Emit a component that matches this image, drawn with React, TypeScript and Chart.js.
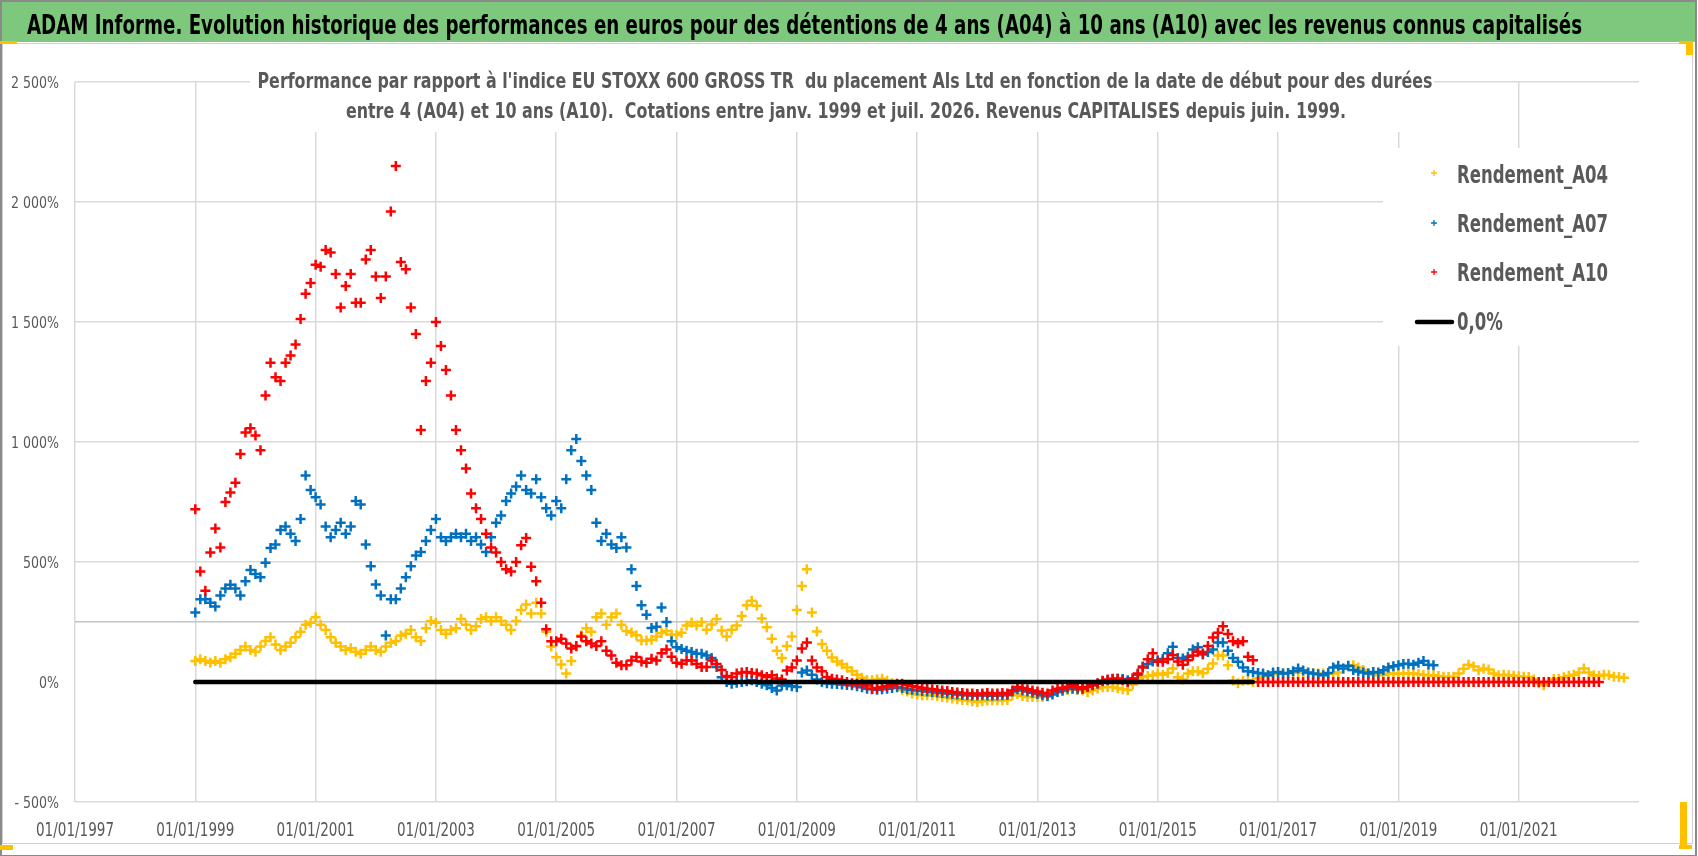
import { useEffect, useRef } from "react"
import { Chart, registerables } from "chart.js"

Chart.register(...registerables)

// Monthly samples, starting January 1999
const FIRST_YEAR = 1999
const STEPS_PER_YEAR = 12

const RENDEMENT_A04 = [
  88, 95, 88, 80, 88, 80, 95, 103, 118, 133, 148, 133,
  126, 148, 171, 186, 156, 133, 148, 164, 186, 209, 239, 247,
  270, 239, 217, 186, 164, 148, 133, 141, 126, 118, 133, 148,
  133, 126, 148, 164, 171, 194, 201, 217, 186, 171, 224, 254,
  247, 217, 201, 217, 224, 262, 239, 217, 232, 262, 270, 254,
  270, 254, 239, 217, 254, 300, 323, 285, 330, 285, 209, 148,
  103, 73, 35, 88, 148, 194, 224, 209, 270, 285, 239, 270,
  285, 239, 212, 206, 195, 173, 173, 176, 190, 204, 212, 198,
  196, 205, 235, 248, 235, 250, 218, 240, 262, 215, 190, 218,
  235, 275, 320, 339, 318, 265, 228, 180, 130, 100, 150, 190,
  300, 400, 470, 290, 210, 158, 130, 102, 85, 74, 60, 45,
  30, 18, 8, 7, 10, 14, 5, -5, -20, -33, -40, -48,
  -52, -55, -55, -55, -58, -62, -65, -69, -72, -75, -76, -80,
  -83, -80, -77, -76, -76, -76, -75, -55, -50, -58, -62, -62,
  -62, -62, -60, -48, -42, -38, -33, -28, -32, -35, -42, -35,
  -28, -22, -21, -21, -26, -30, -33, -10, 10, 21, 25, 28,
  35, 30, 38, 56, 20, 10, 35, 45, 45, 36, 55, 77,
  110, 110, 70, 5, -5, 5, 7, 0, 15, 25, 28, 32,
  35, 35, 38, 40, 42, 40, 38, 36, 35, 35, 34, 35,
  40, 55, 65, 70, 60, 50, 35, 30, 28, 30, 35, 35,
  34, 35, 36, 35, 33, 30, 28, 28, 25, 22, 21, 22,
  35, 55, 72, 65, 49, 56, 52, 35, 28, 30, 28, 26,
  24, 22, 21, 10, -5, -14, 0, 12, 14, 20, 26, 30,
  40, 56, 40, 28, 26, 30, 28, 22, 21, 18,
]

const RENDEMENT_A07 = [
  290, 345, 345, 330, 315, 360, 390, 405, 390, 360, 420, 467,
  450, 436, 497, 558, 573, 633, 648, 618, 588, 679, 860, 800,
  770, 740, 648, 603, 633, 664, 618, 648, 754, 740, 573, 482,
  406, 360, 194, 345, 345, 390, 436, 482, 527, 542, 588, 633,
  679, 603, 588, 603, 618, 603, 618, 588, 603, 573, 542, 603,
  664, 694, 754, 785, 815, 860, 800, 785, 845, 770, 724, 694,
  754, 724, 845, 966, 1012, 921, 860, 800, 664, 588, 618, 573,
  558, 603, 560, 470, 400, 320, 280, 225, 230, 310, 250, 170,
  145, 138, 130, 125, 118, 118, 110, 100, 62, 20, 0, -7,
  -3, 0, 3, 7, 0, -7, -14, -25, -35, -15, -14, -18,
  -21, 40, 48, 30, 10, 0, -5, -7, -8, -10, -12, -14,
  -18, -22, -28, -30, -32, -30, -28, -25, -22, -25, -30, -32,
  -35, -38, -40, -42, -44, -46, -48, -50, -52, -54, -55, -56,
  -56, -55, -56, -57, -56, -55, -54, -40, -30, -35, -40, -45,
  -50, -55, -58, -52, -42, -35, -28, -28, -30, -28, -21, -14,
  -7, 3, 7, 12, 14, 12, 7, 15, 30, 65, 75, 85,
  91, 96, 120, 147, 100, 98, 105, 135, 145, 115, 125, 135,
  165, 165, 130, 100, 84, 60, 45, 42, 38, 35, 28, 40,
  42, 35, 38, 45, 56, 48, 40, 35, 32, 28, 38, 60,
  68, 56, 68, 50, 44, 40, 35, 42, 40, 49, 60, 66,
  70, 75, 76, 72, 80, 88, 72, 70,
]

const RENDEMENT_A10 = [
  720, 460, 380, 540, 640, 560, 750, 790, 830, 950, 1040, 1057,
  1027, 966, 1194, 1330, 1270, 1254, 1330, 1360, 1406, 1512, 1618, 1663,
  1739, 1730, 1800, 1790, 1700, 1560, 1650, 1700, 1580, 1580, 1760, 1800,
  1690, 1600, 1690, 1960, 2150, 1750, 1720, 1560, 1450, 1050, 1254, 1330,
  1500, 1400, 1300, 1194, 1050, 966, 890, 785, 724, 679, 618, 560,
  540, 500, 470, 460, 500, 570, 600, 480, 420, 330, 220, 170,
  170, 180, 160, 140, 150, 190, 170, 160, 150, 170, 130, 110,
  80, 70, 70, 90, 104, 85, 80, 97, 90, 120, 135, 105,
  80, 76, 90, 90, 75, 62, 62, 90, 75, 50, 25, 21,
  35, 40, 42, 38, 35, 28, 21, 28, 15, 10, 48, 60,
  90, 140, 165, 90, 60, 45, 21, 14, 10, 7, 0, -5,
  -7, -7, -15, -28, -25, -21, -18, -14, -7, -7, -12, -18,
  -21, -25, -28, -30, -33, -35, -38, -42, -44, -46, -48, -48,
  -50, -48, -46, -48, -48, -46, -48, -35, -21, -25, -30, -35,
  -40, -45, -48, -35, -28, -24, -20, -14, -22, -28, -21, -14,
  -5, 5, 10, 14, 14, 8, 0, 15, 35, 60, 95, 120,
  84, 84, 95, 112, 85, 72, 91, 110, 126, 119, 150, 185,
  205, 232, 200, 170, 161, 170, 105, 91, 0, 0, 0, 0,
  0, 0, 0, 0, 0, 0, 0, 0, 0, 0, 0, 0,
  0, 0, 0, 0, 0, 0, 0, 0, 0, 0, 0, 0,
  0, 0, 0, 0, 0, 0, 0, 0, 0, 0, 0, 0,
  0, 0, 0, 0, 0, 0, 0, 0, 0, 0, 0, 0,
  0, 0, 0, 0, 0, 0, 0, 0, 0, 0, 0, 0,
  0, 0, 0, 0, 0,
]

// 0,0% reference line
const ZERO_LINE_YEARS = [1999, 2016.58]
const ZERO_LINE_VALUES = [0, 0]

const SERIES_LABELS = ["Rendement_A04", "Rendement_A07", "Rendement_A10", "0,0%"]
const SERIES_COLORS = ["#FFC000", "#0070C0", "#FF0000", "#000000"]

const X_MIN = 1997
const X_MAX = 2023
const X_STEP = 2
const Y_MIN = -500
const Y_MAX = 2500
const Y_STEP = 250
const Y_LABEL_STEP = 500
const Y_GRID_VALUES = [2500, 2000, 1500, 1000, 500, 250, -500]

const TITLE =
  "ADAM Informe. Evolution historique des performances en euros pour des détentions de 4 ans (A04) à 10 ans (A10) avec les revenus connus capitalisés"
const SUBTITLE = [
  "Performance par rapport à l'indice EU STOXX 600 GROSS TR  du placement Als Ltd en fonction de la date de début pour des durées",
  "entre 4 (A04) et 10 ans (A10).  Cotations entre janv. 1999 et juil. 2026. Revenus CAPITALISES depuis juin. 1999.",
]

// no narrow font is installed, so text is squeezed horizontally to look like Calibri
const FONT = '"DejaVu Sans Condensed", "DejaVu Sans", sans-serif'
const TEXT_GRAY = "#595959"

const toPoints = (values: number[]) =>
  values.map((v, i) => ({ x: FIRST_YEAR + i / STEPS_PER_YEAR, y: v }))

const formatPercent = (v: number) => {
  const abs = Math.abs(v)
  const body =
    abs >= 1000 ? `${Math.floor(abs / 1000)} ${String(abs % 1000).padStart(3, "0")}` : String(abs)
  return (v < 0 ? "- " : "") + body + "%"
}

const formatDate = (year: number) => `01/01/${year}`

// squeeze factor so that `sample` is `width` px wide in the current font
const squeeze = (ctx: CanvasRenderingContext2D, sample: string, width: number) =>
  width / ctx.measureText(sample).width

const drawText = (
  ctx: CanvasRenderingContext2D,
  text: string,
  x: number,
  y: number,
  sx: number,
  align: CanvasTextAlign
) => {
  ctx.save()
  ctx.translate(x, y)
  ctx.scale(sx, 1)
  ctx.textAlign = align
  ctx.textBaseline = "alphabetic"
  ctx.fillText(text, 0, 0)
  ctx.restore()
}

// green banner with the main title
const bannerPlugin = {
  id: "banner",
  beforeDraw(chart: Chart) {
    const { ctx } = chart
    ctx.save()
    ctx.fillStyle = "#ffffff"
    ctx.fillRect(0, 0, chart.width, chart.height)
    ctx.fillStyle = "#7DC87D"
    ctx.fillRect(2, 2, 1693, 40)
    ctx.fillStyle = "#000000"
    ctx.font = `bold 27px ${FONT}`
    drawText(ctx, TITLE, 27, 34, squeeze(ctx, TITLE, 1555), "left")
    ctx.restore()
  },
}

// tick labels, drawn by hand to get the narrow look
const tickLabelPlugin = {
  id: "tickLabels",
  afterDraw(chart: Chart) {
    const { ctx } = chart
    const xs = chart.scales.x
    const ys = chart.scales.y
    ctx.save()
    ctx.fillStyle = TEXT_GRAY
    ctx.font = `20px ${FONT}`
    const sx = squeeze(ctx, formatDate(1997), 78)
    xs.ticks.forEach((t) => {
      if (t.value >= X_MAX) return
      drawText(ctx, formatDate(t.value), xs.getPixelForValue(t.value), 836, sx, "center")
    })
    ctx.font = `16.5px ${FONT}`
    const sy = squeeze(ctx, formatPercent(2500), 48)
    ys.ticks.forEach((t) => {
      if (t.value % Y_LABEL_STEP !== 0) return
      drawText(ctx, formatPercent(t.value), 59, ys.getPixelForValue(t.value) + 6, sy, "right")
    })
    ctx.restore()
  },
}

// chart title block drawn over the plot area, as in the Excel chart
const subtitlePlugin = {
  id: "subtitleBox",
  afterDatasetsDraw(chart: Chart) {
    const { ctx } = chart
    ctx.save()
    ctx.fillStyle = "#ffffff"
    ctx.fillRect(250, 66, 1184, 66)
    ctx.fillStyle = TEXT_GRAY
    ctx.font = `bold 22px ${FONT}`
    const sx = squeeze(ctx, SUBTITLE[0], 1175)
    drawText(ctx, SUBTITLE[0], 845, 88, sx, "center")
    drawText(ctx, SUBTITLE[1], 846, 118, sx, "center")
    ctx.restore()
  },
}

// legend box in the upper right of the plot area
const legendPlugin = {
  id: "legendBox",
  afterDatasetsDraw(chart: Chart) {
    const { ctx } = chart
    const marks = [173, 223, 272, 322]
    const baselines = [183, 232, 281, 330]
    ctx.save()
    ctx.fillStyle = "#ffffff"
    ctx.fillRect(1383, 148, 262, 198)
    ctx.font = `bold 24px ${FONT}`
    const sx = squeeze(ctx, SERIES_LABELS[0], 151)
    SERIES_LABELS.forEach((label, i) => {
      const y = marks[i]
      ctx.strokeStyle = SERIES_COLORS[i]
      if (i < 3) {
        ctx.lineWidth = 1.3
        ctx.beginPath()
        ctx.moveTo(1431, y)
        ctx.lineTo(1437, y)
        ctx.moveTo(1434, y - 3)
        ctx.lineTo(1434, y + 3)
        ctx.stroke()
      } else {
        ctx.lineWidth = 4.5
        ctx.lineCap = "round"
        ctx.beginPath()
        ctx.moveTo(1417, y)
        ctx.lineTo(1452, y)
        ctx.stroke()
      }
      ctx.fillStyle = TEXT_GRAY
      drawText(ctx, label, 1457, baselines[i], sx, "left")
    })
    ctx.restore()
  },
}

const markerSeries = (values: number[], idx: number, order: number) => ({
  label: SERIES_LABELS[idx],
  data: toPoints(values),
  showLine: false,
  pointStyle: "cross" as const,
  pointRadius: 5,
  pointBorderWidth: 2.5,
  borderColor: SERIES_COLORS[idx],
  backgroundColor: SERIES_COLORS[idx],
  order,
})

export default function App() {
  const chartRef = useRef<HTMLCanvasElement>(null)
  const chartInstance = useRef<Chart | null>(null)

  useEffect(() => {
    if (!chartRef.current) return
    if (chartInstance.current) chartInstance.current.destroy()

    const ctx = chartRef.current.getContext("2d")
    if (!ctx) return

    chartInstance.current = new Chart(ctx, {
      type: "scatter",
      data: {
        datasets: [
          {
            label: SERIES_LABELS[3],
            data: ZERO_LINE_YEARS.map((x, i) => ({ x, y: ZERO_LINE_VALUES[i] })),
            showLine: true,
            borderColor: SERIES_COLORS[3],
            borderWidth: 4.5,
            borderCapStyle: "round",
            pointRadius: 0,
            order: 0,
          },
          markerSeries(RENDEMENT_A10, 2, 1),
          markerSeries(RENDEMENT_A07, 1, 2),
          markerSeries(RENDEMENT_A04, 0, 3),
        ],
      },
      options: {
        responsive: false,
        animation: false,
        layout: { padding: { top: 82, right: 59, left: 0, bottom: 0 } },
        plugins: {
          legend: { display: false },
          title: { display: false },
          tooltip: { enabled: false },
        },
        scales: {
          x: {
            type: "linear",
            min: X_MIN,
            max: X_MAX,
            afterFit: (scale) => {
              scale.height = 54
            },
            ticks: { stepSize: X_STEP, display: false, autoSkip: false },
            grid: {
              drawTicks: false,
              color: (c) => (c.tick && c.tick.value >= X_MAX ? "rgba(0,0,0,0)" : "#d9d9d9"),
              lineWidth: 1.5,
            },
            border: { display: false },
          },
          y: {
            type: "linear",
            min: Y_MIN,
            max: Y_MAX,
            afterFit: (scale) => {
              scale.width = 75
            },
            ticks: { stepSize: Y_STEP, display: false, autoSkip: false },
            grid: {
              drawTicks: false,
              color: (c) => {
                const v = c.tick ? c.tick.value : NaN
                if (!Y_GRID_VALUES.includes(v)) return "rgba(0,0,0,0)"
                return v === 250 ? "#c4c4c4" : "#d9d9d9"
              },
              lineWidth: 1.5,
            },
            border: { display: false },
          },
        },
      },
      plugins: [bannerPlugin, subtitlePlugin, legendPlugin, tickLabelPlugin],
    })

    return () => {
      if (chartInstance.current) {
        chartInstance.current.destroy()
        chartInstance.current = null
      }
    }
  }, [])

  return (
    <div
      style={{
        position: "fixed",
        left: 0,
        top: 0,
        width: 1698,
        height: 856,
        background: "#ffffff",
        overflow: "hidden",
      }}
    >
      <canvas ref={chartRef} width={1698} height={856} style={{ position: "absolute", left: 0, top: 0 }} />
      {/* chart panel frame */}
      <div
        style={{
          position: "absolute",
          left: 2,
          top: 43,
          width: 1689,
          height: 799,
          border: "1px solid #d0d0d0",
          pointerEvents: "none",
        }}
      />
      {/* outer frame */}
      <div
        style={{
          position: "absolute",
          left: 0,
          top: 0,
          width: 1693,
          height: 853,
          borderTop: "2px solid #8a8a8a",
          borderLeft: "2px solid #8a8a8a",
          borderRight: "2px solid #8a8a8a",
          borderBottom: "1px solid #8a8a8a",
          pointerEvents: "none",
        }}
      />
      {/* Excel selection handles */}
      <div style={{ position: "absolute", left: 0, top: 41, width: 17, height: 3, background: "#FFC000" }} />
      <div style={{ position: "absolute", left: 1679, top: 41, width: 14, height: 3, background: "#FFC000" }} />
      <div style={{ position: "absolute", left: 1686, top: 41, width: 7, height: 14, background: "#FFC000" }} />
      <div style={{ position: "absolute", left: 1680, top: 802, width: 7, height: 47, background: "#FFC000" }} />
      <div style={{ position: "absolute", left: 1679, top: 845, width: 13, height: 4, background: "#FFC000" }} />
      <div style={{ position: "absolute", left: 0, top: 845, width: 13, height: 5, background: "#FFC000" }} />
    </div>
  )
}
